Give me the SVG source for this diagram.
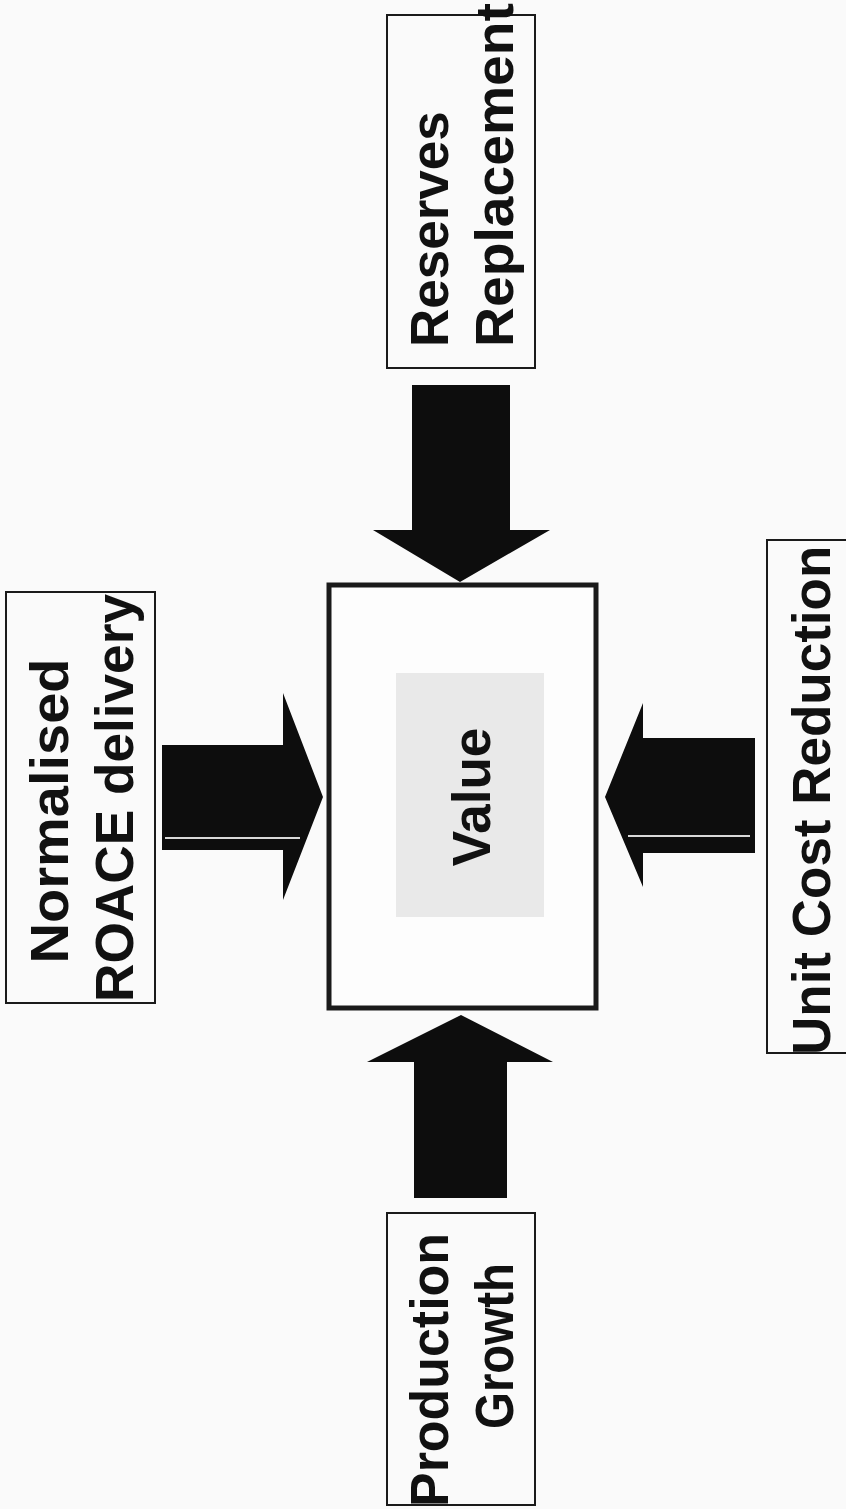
<svg xmlns="http://www.w3.org/2000/svg" width="846" height="1509" viewBox="0 0 846 1509">
<style>
.bg{fill:#fafafa}
.box{fill:none;stroke:#1a1a1a;stroke-width:2}
.lbl{font-family:"Liberation Sans",Arial,sans-serif;font-weight:bold;font-size:53px;fill:#111}
.arrow{fill:#0d0d0d}
.streak{stroke:#d8d8d8;stroke-width:2}
</style>
<rect class="bg" x="0" y="0" width="846" height="1509"/>
<g id="value">
<rect x="329" y="585" width="267" height="423" fill="#fdfdfd" stroke="#1a1a1a" stroke-width="5"/>
<rect x="396" y="673" width="148" height="244" fill="#e9e9e9"/>
<text class="lbl" text-anchor="middle" transform="translate(490,797) rotate(-90)">Value</text>
</g>
<g id="roace">
<rect class="box" x="6" y="592" width="149" height="411"/>
<text class="lbl" text-anchor="middle" textLength="305" lengthAdjust="spacingAndGlyphs" transform="translate(68,811) rotate(-90)">Normalised</text>
<text class="lbl" text-anchor="start" textLength="408" lengthAdjust="spacingAndGlyphs" transform="translate(133,1002) rotate(-90)">ROACE delivery</text>
</g>
<g id="reserves">
<rect class="box" x="387" y="15" width="148" height="353"/>
<text class="lbl" text-anchor="start" transform="translate(448,347) rotate(-90)">Reserves</text>
<text class="lbl" text-anchor="start" textLength="344" lengthAdjust="spacingAndGlyphs" transform="translate(513,347) rotate(-90)">Replacement</text>
</g>
<g id="unitcost">
<rect class="box" x="767" y="540" width="90" height="513"/>
<text class="lbl" text-anchor="start" transform="translate(830,1055) rotate(-90)">Unit Cost Reduction</text>
</g>
<g id="production">
<rect class="box" x="387" y="1213" width="148" height="292"/>
<text class="lbl" text-anchor="start" textLength="274" lengthAdjust="spacingAndGlyphs" transform="translate(448,1507) rotate(-90)">Production</text>
<text class="lbl" text-anchor="middle" textLength="166" lengthAdjust="spacingAndGlyphs" transform="translate(513,1346) rotate(-90)">Growth</text>
</g>
<g id="connectors">
<polygon class="arrow" points="162,745 283,745 283,693 323,797 283,900 283,850 162,850"/>
<line class="streak" x1="165" y1="838" x2="300" y2="838"/>
<polygon class="arrow" points="755,738 643,738 643,703 605,797 643,887 643,853 755,853"/>
<line class="streak" x1="628" y1="836" x2="750" y2="836"/>
<polygon class="arrow" points="412,385 510,385 510,530 550,530 460,582 373,530 412,530"/>
<polygon class="arrow" points="414,1198 507,1198 507,1062 553,1062 461,1015 367,1062 414,1062"/>
</g>
</svg>
